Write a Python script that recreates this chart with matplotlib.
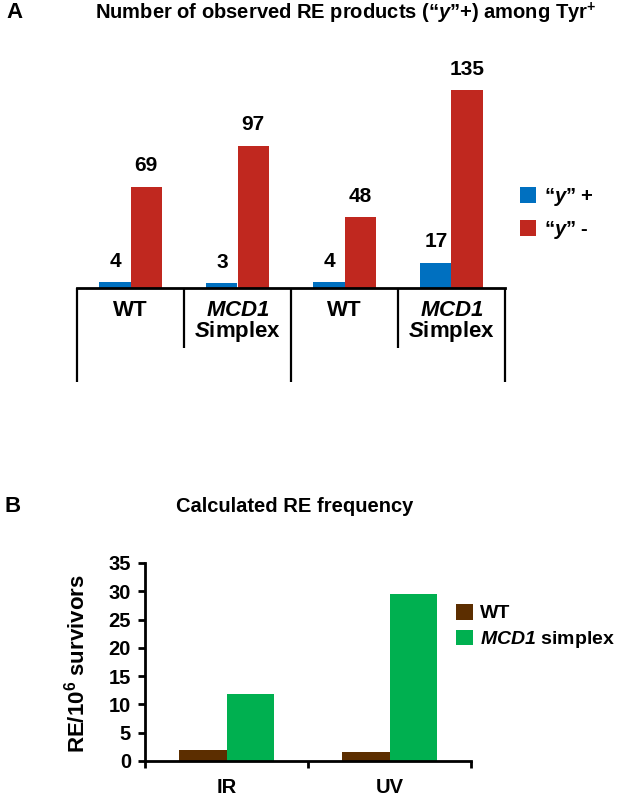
import matplotlib
matplotlib.use("Agg")
from matplotlib import pyplot as plt
import numpy as np

plt.rcParams['font.family'] = ['Liberation Sans', 'DejaVu Sans']
plt.rcParams['font.weight'] = 'bold'
plt.rcParams['mathtext.fontset'] = 'custom'
plt.rcParams['mathtext.rm'] = 'Liberation Sans:bold'
plt.rcParams['mathtext.bf'] = 'Liberation Sans:bold'
plt.rcParams['mathtext.it'] = 'Liberation Sans:italic:bold'
plt.rcParams['mathtext.bfit'] = 'Liberation Sans:italic:bold'
plt.rcParams['mathtext.default'] = 'bf'

# panel A data
groups_top = ['WT', r'$\mathbfit{MCD1}$', 'WT', r'$\mathbfit{MCD1}$']
groups_bottom = ['', r'$\mathbfit{S}$implex', '', r'$\mathbfit{S}$implex']
y_plus = [4, 3, 4, 17]
y_minus = [69, 97, 48, 135]

# panel B data
conditions = ['IR', 'UV']
freq_wt = [2.0, 1.6]
freq_mcd1 = [11.8, 29.5]

blue = '#0070C0'
red = '#C0281F'
brown = '#5C2E00'
green = '#00B050'

W, H = 621, 800
fig = plt.figure(figsize=(W / 100, H / 100), dpi=100)

# ---------------- panel A ----------------
axA = fig.add_axes([77 / W, (H - 287.7) / H, 428 / W, 150 * 1.464 / H])
x = np.arange(len(y_plus))
bw = 0.29
b1 = axA.bar(x - bw / 2, y_plus, bw, color=blue, label=r'“$\mathbfit{y}$” +')
b2 = axA.bar(x + bw / 2, y_minus, bw, color=red, label=r'“$\mathbfit{y}$” -')
axA.set_xlim(-0.5, len(y_plus) - 0.5)
axA.set_ylim(0, 150)
for s in ['top', 'right', 'left']:
    axA.spines[s].set_visible(False)
axA.spines['bottom'].set_linewidth(2)
axA.set_xticks([])
axA.set_yticks([])

for bars in (b1, b2):
    for r in bars:
        axA.annotate(str(int(r.get_height())),
                     (r.get_x() + r.get_width() / 2, r.get_height()),
                     xytext=(0, 15), textcoords='offset points',
                     ha='center', va='center', fontsize=15, fontweight='bold')

# divider lines under the axis
tr = axA.get_xaxis_transform()
hA = 150 * 1.464
for i, xb in enumerate(np.arange(-0.5, len(y_plus))):
    depth = 94 if i % 2 == 0 else 60
    axA.plot([xb, xb], [0, -depth / hA], color='black', lw=1.6,
             transform=tr, clip_on=False, solid_capstyle='butt')

for i in range(len(y_plus)):
    axA.text(i, -23 / hA, groups_top[i], transform=tr, ha='center',
             va='center', fontsize=16, fontweight='bold')
    if groups_bottom[i]:
        axA.text(i, -44 / hA, groups_bottom[i], transform=tr, ha='center',
                 va='center', fontsize=16, fontweight='bold')

axA.legend(handles=[b1, b2], loc='upper left', frameon=False,
           bbox_to_anchor=(520 / W, (H - 186) / H), bbox_transform=fig.transFigure,
           borderpad=0, borderaxespad=0, handlelength=0.8, handleheight=0.8,
           handletextpad=0.4, labelspacing=0.55,
           prop={'weight': 'bold', 'size': 14.5})

fig.text(346 / W, 1 - 13 / H, r'Number of observed RE products (“$\mathbfit{y}$”+) among Tyr$^{+}$',
         ha='center', va='center', fontsize=14.5, fontweight='bold')
fig.text(6 / W, 1 - 13 / H, 'A', ha='left', va='center', fontsize=16, fontweight='bold')

# ---------------- panel B ----------------
axB = fig.add_axes([145 / W, (H - 761) / H, 326 / W, 198 / H])
xb = np.arange(len(conditions))
bw2 = 0.29
axB.bar(xb - bw2 / 2, freq_wt, bw2, color=brown, label='WT')
axB.bar(xb + bw2 / 2, freq_mcd1, bw2, color=green, label=r'$\mathbfit{MCD1}$ simplex')
axB.set_xlim(-0.5, len(conditions) - 0.5)
axB.set_ylim(0, 35)
axB.set_yticks(np.arange(0, 36, 5))
axB.set_xticks(xb)
axB.set_xticklabels(conditions)
axB.set_xticks(np.arange(-0.5, len(conditions)), minor=True)
axB.tick_params(axis='x', which='major', length=0, pad=12, labelsize=14.5)
axB.tick_params(axis='x', which='minor', length=5, width=2, direction='out')
axB.tick_params(axis='y', length=5, width=2, direction='out', pad=5, labelsize=14.5)
for s in ['top', 'right']:
    axB.spines[s].set_visible(False)
for s in ['left', 'bottom']:
    axB.spines[s].set_linewidth(2)
for lab in axB.get_xticklabels() + axB.get_yticklabels():
    lab.set_fontweight('bold')
axB.set_ylabel(r'RE/10$^{6}$ survivors', fontsize=16, fontweight='bold')
axB.yaxis.set_label_coords(-0.169, 0.49)

axB.legend(loc='upper left', frameon=False,
           bbox_to_anchor=(456 / W, (H - 604) / H), bbox_transform=fig.transFigure,
           borderpad=0, borderaxespad=0, handlelength=0.85, handleheight=0.85,
           handletextpad=0.4, labelspacing=0.35,
           prop={'weight': 'bold', 'size': 14})

fig.text(295 / W, 1 - 507 / H, 'Calculated RE frequency', ha='center', va='center',
         fontsize=14.5, fontweight='bold')
fig.text(5 / W, 1 - 507 / H, 'B', ha='left', va='center', fontsize=16, fontweight='bold')

fig.savefig('out.png', dpi=100)
